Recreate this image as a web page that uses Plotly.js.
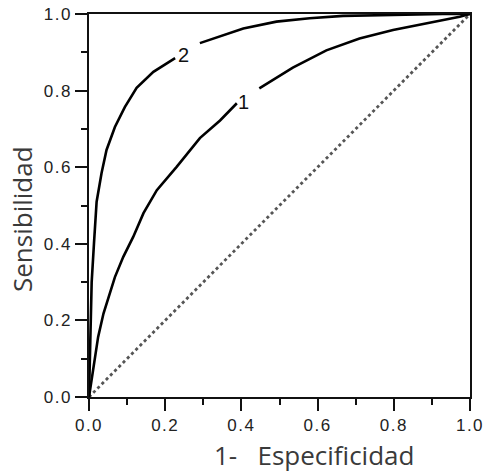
<!DOCTYPE html>
<html>
<head>
<meta charset="utf-8">
<script src="https://cdn.plot.ly/plotly-3.0.1.min.js"></script>
<style>
html,body{margin:0;padding:0;background:#fff;}
#chart{width:486px;height:474px;}
.xtick text, .ytick text { letter-spacing: 1.5px; }
</style>
</head>
<body>
<div id="chart"></div>
<script>
// Curve 1 (null = gap where the label sits)
var curve1X = [0, 0.011, 0.024, 0.038, 0.051, 0.068, 0.090, 0.116, 0.143, 0.178, 0.230, 0.291, 0.344, 0.388, null, 0.447, 0.535, 0.623, 0.710, 0.798, 0.885, 0.973, 1.0];
var curve1Y = [0, 0.070, 0.157, 0.218, 0.261, 0.313, 0.366, 0.418, 0.480, 0.540, 0.601, 0.676, 0.722, 0.767, null, 0.806, 0.860, 0.905, 0.936, 0.958, 0.975, 0.993, 1.0];
// Curve 2
var curve2X = [0, 0.002, 0.004, 0.007, 0.013, 0.020, 0.033, 0.046, 0.068, 0.094, 0.125, 0.169, 0.226, null, 0.291, 0.344, 0.405, 0.492, 0.579, 0.667, 0.754, 0.850, 0.929, 1.0];
var curve2Y = [0, 0.100, 0.200, 0.300, 0.400, 0.510, 0.585, 0.645, 0.705, 0.757, 0.807, 0.849, 0.885, null, 0.924, 0.942, 0.962, 0.980, 0.989, 0.995, 0.997, 0.999, 1.0, 1.0];
// Reference diagonal
var diagX = [0, 1];
var diagY = [0, 1];
// Curve labels
var labelText = ["1", "2"];
var labelX = [0.405, 0.247];
var labelY = [0.771, 0.893];
// Axis titles
var xTitle = "1-\u00a0\u00a0 Especificidad";
var yTitle = "Sensibilidad";

var traces = [
  {x: diagX, y: diagY, mode: 'lines', line: {color: '#555', width: 2.8, dash: 'dot'}, hoverinfo: 'skip'},
  {x: curve1X, y: curve1Y, mode: 'lines', line: {color: '#000', width: 2.6}, connectgaps: false},
  {x: curve2X, y: curve2Y, mode: 'lines', line: {color: '#000', width: 2.6}, connectgaps: false}
];

var annotations = labelText.map(function(t, i){
  return {x: labelX[i], y: labelY[i], xref: 'x', yref: 'y', text: t, showarrow: false,
          font: {family: 'Liberation Sans, Arial, sans-serif', size: 20, color: '#111'}};
});
annotations.push({xref: 'paper', yref: 'paper', x: 0.0, y: 0, text: xTitle, showarrow: false,
  xanchor: 'center', yanchor: 'middle', font: {family: 'Open Sans, sans-serif', size: 26, color: '#3a3a3a'}});
annotations.push({xref: 'paper', yref: 'paper', x: 0, y: 0, text: yTitle, showarrow: false, textangle: -90,
  xanchor: 'center', yanchor: 'middle', font: {family: 'Open Sans, sans-serif', size: 26, color: '#3a3a3a'}});

function makeAxis() {
  return {
    range: [0, 1], showgrid: false, zeroline: false,
    showline: true, linecolor: '#111', linewidth: 1.5, mirror: true,
    ticks: 'outside', ticklen: 12, tickwidth: 1.5, tickcolor: '#111',
    tickmode: 'linear', tick0: 0, dtick: 0.2, tickformat: '.1f',
    tickfont: {family: 'Liberation Sans, Arial, sans-serif', size: 17, color: '#222'},
    minor: {ticks: 'outside', ticklen: 6, tickwidth: 1.5, tickcolor: '#111', dtick: 0.1, tick0: 0}
  };
}

var layout = {
  width: 486, height: 474,
  margin: {l: 89, r: 16, t: 14, b: 77},
  paper_bgcolor: '#fff', plot_bgcolor: '#fff',
  showlegend: false,
  xaxis: makeAxis(),
  yaxis: makeAxis(),
  annotations: annotations
};

var plotW = 486 - 89 - 16, plotH = 474 - 14 - 77;
annotations[2].x = (314 - 89) / plotW;
annotations[2].y = (397 - 455) / plotH;
annotations[3].x = (22 - 89) / plotW;
annotations[3].y = (397 - 219) / plotH;

Plotly.newPlot('chart', traces, layout, {displayModeBar: false});
</script>
</body>
</html>
